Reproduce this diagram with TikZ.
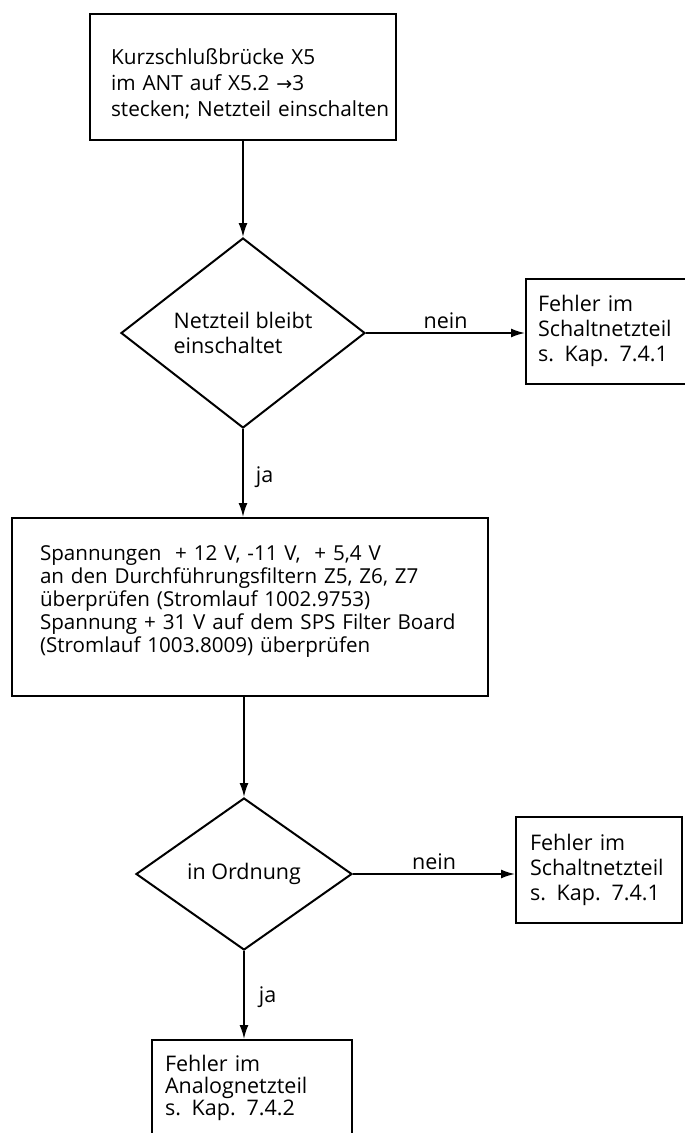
\documentclass[tikz,border=0pt]{standalone}
\usepackage{fontspec}
\setmainfont{Open Sans}
\newfontfamily\symf{DejaVu Sans}
\usetikzlibrary{shapes.geometric,arrows.meta}
\tikzset{
  box/.style={draw, line width=2pt, rectangle, inner ysep=0pt, align=left},
  dia/.style={draw, line width=2pt, diamond, inner sep=0pt, align=left,
    font=\fontsize{21.5}{25}\selectfont},
  arr/.style={line width=1.8pt, -{Latex[length=14pt,width=9pt]}},
  lab/.style={font=\fontsize{21.5}{25}\selectfont, inner sep=2pt}
}
\begin{document}
\begin{tikzpicture}[x=1pt,y=-1pt]
\useasboundingbox (0,0) rectangle (685,1133);
\fill[white] (0,0) rectangle (685,1133);
\clip (0,0) rectangle (685,1133);

\node[box, font=\fontsize{20.8}{26}\selectfont, minimum width=306pt, minimum height=126pt, inner xsep=21pt, text width=264pt]
  (b1) at (243,77) {\mbox{\rule{0pt}{30pt}Kurzschlußbrücke X5}\\\mbox{im ANT auf X5.2 {\symf\fontsize{19}{19}\selectfont →}3}\\\mbox{stecken; Netzteil einschalten}};

\node[dia, minimum width=244pt, minimum height=190pt, aspect=1.28]
  (d1) at (243,333) {Netzteil bleibt\\einschaltet};

\node[box, font=\fontsize{21.5}{25}\selectfont, minimum width=164pt, minimum height=105pt, inner xsep=12pt, text width=140pt]
  (r1) at (608,331) {\mbox{Fehler im}\\\mbox{Schaltnetzteil}\\\mbox{s. Kap. 7.4.1}};

\node[box, font=\fontsize{20.6}{23}\selectfont, minimum width=476pt, minimum height=178pt, inner xsep=28pt, text width=420pt]
  (b2) at (250,607) {\mbox{Spannungen ~+ 12 V, -11 V, ~+ 5,4 V}\\\mbox{an den Durchführungsfiltern Z5, Z6, Z7}\\\mbox{überprüfen (Stromlauf 1002.9753)}\\\mbox{Spannung + 31 V auf dem SPS Filter Board}\\\mbox{(Stromlauf 1003.8009) überprüfen\rule[-15pt]{0pt}{15pt}}};

\node[dia, minimum width=216pt, minimum height=152pt, aspect=1.42]
  (d2) at (244,874) {in Ordnung};

\node[box, font=\fontsize{21.5}{25}\selectfont, minimum width=166pt, minimum height=106pt, inner xsep=14pt, text width=138pt]
  (r2) at (599,870) {\mbox{Fehler im}\\\mbox{Schaltnetzteil}\\\mbox{s. Kap. 7.4.1}};

\node[box, font=\fontsize{21.5}{22}\selectfont, minimum width=200pt, minimum height=96pt, inner xsep=13pt, text width=174pt]
  (b3) at (252,1088) {\mbox{Fehler im}\\\mbox{Analognetzteil}\\\mbox{s. Kap. 7.4.2}};

\draw[arr] (d1.north |- b1.south) -- (d1.north);
\draw[arr] (d1.east) -- node[lab, above=1pt] (n1) {nein} (d1.east -| r1.west);
\draw[arr] (d1.south) -- node[lab, anchor=west, xshift=10pt, yshift=-4pt] (j1) {ja} (d1.south |- b2.north);
\draw[arr] (d2.north |- b2.south) -- (d2.north);
\draw[arr] (d2.east) -- node[lab, above=1pt] (n2) {nein} (d2.east -| r2.west);
\draw[arr] (d2.south) -- node[lab, anchor=west, xshift=12pt, yshift=-2pt] (j2) {ja} (d2.south |- b3.north);
\end{tikzpicture}
\end{document}
